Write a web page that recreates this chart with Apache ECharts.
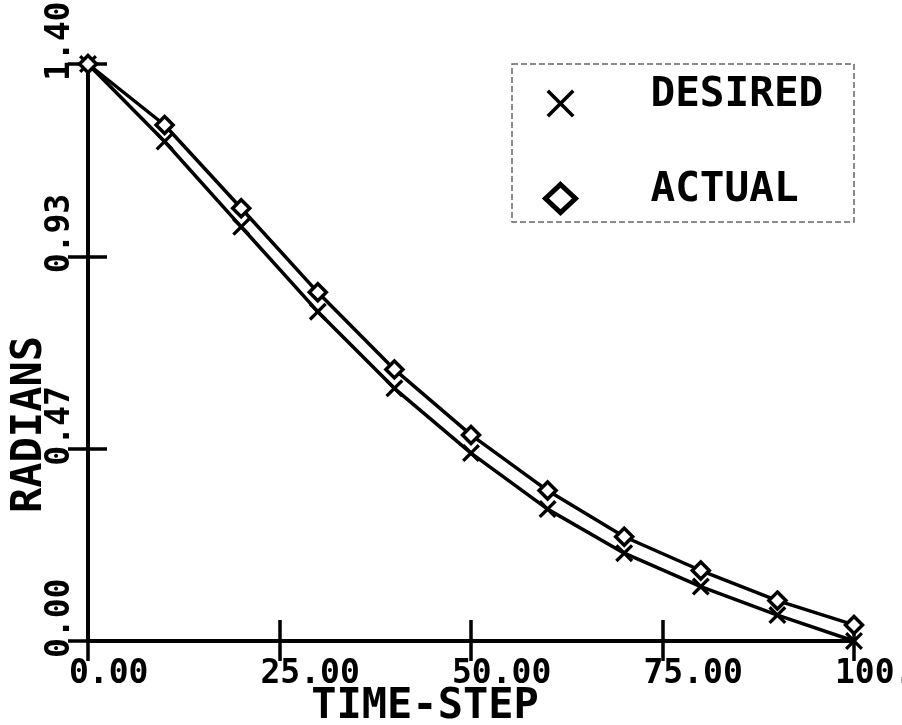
<!DOCTYPE html>
<html>
<head>
<meta charset="utf-8">
<title>Radians vs Time-Step</title>
<script src="https://cdn.jsdelivr.net/npm/echarts@6/dist/echarts.min.js"></script>
<style>
  html, body { margin: 0; padding: 0; background: #fff; }
  #chart { width: 902px; height: 725px; }
</style>
</head>
<body>
<div id="chart"></div>
<script>
// Trajectory samples: commanded (desired) vs. tracked (actual) angle
const timeSteps = [0, 10, 20, 30, 40, 50, 60, 70, 80, 90, 100];
const desired   = [1.40, 1.212, 1.005, 0.799, 0.613, 0.456, 0.320, 0.213, 0.132, 0.063, 0.000];
const actual    = [1.40, 1.252, 1.050, 0.846, 0.659, 0.500, 0.365, 0.253, 0.171, 0.098, 0.039];

// Axis ticks and their printed labels
const xTickValues = [0, 25, 50, 75, 100];
const xTickLabels = ['0.00', '25.00', '50.00', '75.00', '100.'];
const yTickValues = [0, 1.4 / 3, 2.8 / 3, 1.4];
const yTickLabels = ['0.00', '0.47', '0.93', '1.40'];

const seriesNames = ['DESIRED', 'ACTUAL'];
const xName = 'TIME-STEP';
const yName = 'RADIANS';

const FONT = '"DejaVu Sans Mono", "Liberation Mono", monospace';
const INK = '#000';
const X_MARK = 'path://M0,1.3L1.3,0L5,3.7L8.7,0L10,1.3L6.3,5L10,8.7L8.7,10L5,6.3L1.3,10L0,8.7L3.7,5Z';
const X_ICON = 'path://M0,0.9L0.9,0L5,4.1L9.1,0L10,0.9L5.9,5L10,9.1L9.1,10L5,5.9L0.9,10L0,9.1L4.1,5Z';

function labelFor(values, labels) {
  return function (v) {
    let best = 0;
    for (let i = 1; i < values.length; i++) {
      if (Math.abs(values[i] - v) < Math.abs(values[best] - v)) best = i;
    }
    return labels[best];
  };
}

const plot = { left: 88, top: 64, width: 766, height: 577, outerBoundsMode: 'none', containLabel: false };
const frameLine = { show: true, lineStyle: { color: INK, width: 4 } };
const xRange = { type: 'value', min: 0, max: 100 };
const yRange = { type: 'value', min: 0, max: 1.4 };
const noSplit = { show: false };

const chart = echarts.init(document.getElementById('chart'), null, { renderer: 'canvas' });

chart.setOption({
  backgroundColor: '#fff',
  animation: false,
  grid: [
    // plotting frame
    Object.assign({}, plot),
    // x tick labels start a little left of each tick
    Object.assign({}, plot, { left: plot.left - 19 }),
    // rotated y tick labels start a little below each tick
    Object.assign({}, plot, { top: plot.top + 17 })
  ],
  xAxis: [
    Object.assign({}, xRange, {
      gridIndex: 0, position: 'bottom',
      axisLine: frameLine,
      axisTick: { show: true, inside: true, length: 21, customValues: xTickValues, lineStyle: { color: INK, width: 3.5 } },
      axisLabel: { show: false },
      splitLine: noSplit,
      name: xName, nameLocation: 'middle', nameGap: 45,
      nameTextStyle: { fontFamily: FONT, fontSize: 42, fontWeight: 'bold', color: INK, padding: [0, 92, 0, 0] }
    }),
    Object.assign({}, xRange, {
      gridIndex: 0, position: 'bottom',
      axisLine: { show: false },
      axisTick: { show: true, inside: false, length: 13, customValues: xTickValues, lineStyle: { color: INK, width: 3.5 } },
      axisLabel: { show: false },
      splitLine: noSplit
    }),
    Object.assign({}, xRange, {
      gridIndex: 0, position: 'top',
      axisLine: frameLine,
      axisTick: { show: true, inside: true, length: 20, customValues: xTickValues, lineStyle: { color: INK, width: 3.5 } },
      axisLabel: { show: false },
      splitLine: noSplit
    }),
    Object.assign({}, xRange, {
      gridIndex: 1, position: 'bottom',
      axisLine: { show: false },
      axisTick: { show: false },
      splitLine: noSplit,
      axisLabel: {
        show: true, customValues: xTickValues, align: 'left', margin: 17,
        formatter: labelFor(xTickValues, xTickLabels),
        fontFamily: FONT, fontSize: 33, fontWeight: 'bold', color: INK
      }
    }),
    Object.assign({}, xRange, { gridIndex: 2, show: false })
  ],
  yAxis: [
    Object.assign({}, yRange, {
      gridIndex: 0, position: 'left',
      axisLine: frameLine,
      axisTick: { show: true, inside: true, length: 19, customValues: yTickValues, lineStyle: { color: INK, width: 3.5 } },
      axisLabel: { show: false },
      splitLine: noSplit,
      name: yName, nameLocation: 'middle', nameGap: 37, nameRotate: 90,
      nameTextStyle: { fontFamily: FONT, fontSize: 42, fontWeight: 'bold', color: INK, padding: [0, 144, 0, 0] }
    }),
    Object.assign({}, yRange, {
      gridIndex: 0, position: 'left',
      axisLine: { show: false },
      axisTick: { show: true, inside: false, length: 16, customValues: yTickValues, lineStyle: { color: INK, width: 3.5 } },
      axisLabel: { show: false },
      splitLine: noSplit
    }),
    Object.assign({}, yRange, {
      gridIndex: 0, position: 'right',
      axisLine: frameLine,
      axisTick: { show: true, inside: true, length: 20, customValues: yTickValues, lineStyle: { color: INK, width: 3.5 } },
      axisLabel: { show: false },
      splitLine: noSplit
    }),
    Object.assign({}, yRange, { gridIndex: 1, show: false }),
    Object.assign({}, yRange, {
      gridIndex: 2, position: 'left',
      axisLine: { show: false },
      axisTick: { show: false },
      splitLine: noSplit,
      axisLabel: {
        show: true, customValues: yTickValues, rotate: 90, align: 'left', verticalAlign: 'middle', margin: 28,
        formatter: labelFor(yTickValues, yTickLabels),
        fontFamily: FONT, fontSize: 33, fontWeight: 'bold', color: INK
      }
    })
  ],
  legend: {
    orient: 'vertical',
    left: 543, top: 75,
    padding: 0,
    itemWidth: 30, itemHeight: 28, itemGap: 38,
    selectedMode: false,
    // key text sits a little higher than its symbol and well to the right of it
    formatter: name => '{t|' + name + '}',
    textStyle: {
      color: INK,
      rich: {
        t: { fontFamily: FONT, fontSize: 41, fontWeight: 'bold', color: INK, lineHeight: 40, padding: [0, 0, 16, 70] }
      }
    },
    data: [
      { name: seriesNames[0], icon: X_ICON, itemStyle: { color: INK, borderWidth: 0 } },
      { name: seriesNames[1], icon: 'diamond', itemStyle: { color: '#fff', borderColor: INK, borderWidth: 5 } }
    ]
  },
  graphic: [{
    // dashed frame around the key
    type: 'rect', z: 0, silent: true,
    shape: { x: 512, y: 64, width: 342, height: 158 },
    style: { fill: 'none', stroke: '#666', lineWidth: 1.5, lineDash: [6, 3] }
  }],
  series: [
    {
      name: seriesNames[0], type: 'line',
      xAxisIndex: 0, yAxisIndex: 0,
      data: timeSteps.map((t, i) => [t, desired[i]]),
      symbol: X_MARK, symbolSize: 18, showAllSymbol: true,
      lineStyle: { color: INK, width: 3.5 },
      itemStyle: { color: INK },
      z: 3
    },
    {
      name: seriesNames[1], type: 'line',
      xAxisIndex: 0, yAxisIndex: 0,
      data: timeSteps.map((t, i) => [t, actual[i]]),
      symbol: 'diamond', symbolSize: 17, showAllSymbol: true,
      lineStyle: { color: INK, width: 3.5 },
      itemStyle: { color: '#fff', borderColor: INK, borderWidth: 3.5 },
      z: 4
    }
  ]
});
</script>
</body>
</html>
